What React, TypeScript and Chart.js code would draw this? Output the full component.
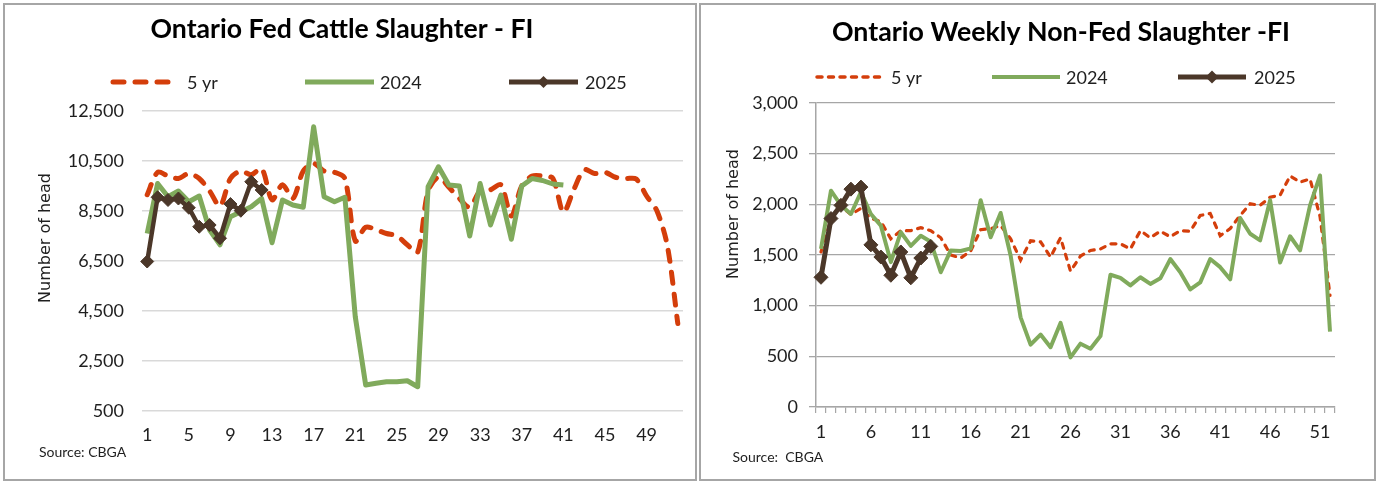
import React, { useEffect, useRef } from 'react';
import { Chart, registerables } from 'chart.js';

Chart.register(...registerables);

// ---------- data ----------
const WEEKS = [
  '1', '2', '3', '4', '5', '6', '7', '8', '9', '10', '11', '12', '13',
  '14', '15', '16', '17', '18', '19', '20', '21', '22', '23', '24', '25', '26',
  '27', '28', '29', '30', '31', '32', '33', '34', '35', '36', '37', '38', '39',
  '40', '41', '42', '43', '44', '45', '46', '47', '48', '49', '50', '51', '52',
];

const SERIES_LABELS = ['5 yr', '2024', '2025'];

// Ontario Fed Cattle Slaughter - FI
const FED_5YR = [
  9150, 10050, 9900, 9800, 10000, 9800, 9300, 8700, 9800, 10100, 9950, 10200, 8950,
  9550, 9000, 10100, 10400, 10100, 10050, 9800, 7300, 7850, 7750, 7600, 7500, 7150,
  6850, 9300, 9850, 9450, 9000, 8650, 9300, 9350, 9550, 8300, 9500, 9900, 9900,
  9800, 8450, 9350, 10150, 10000, 10050, 9850, 9800, 9780, 9100, 8500, 7100, 4000,
];
const FED_2024 = [
  7600, 9600, 9070, 9300, 8870, 9100, 7740, 7150, 8270, 8470, 8670, 9000, 7230,
  8940, 8740, 8650, 11870, 9070, 8870, 9050, 4270, 1540, 1610, 1670, 1670, 1710,
  1470, 9470, 10270, 9540, 9500, 7500, 9600, 7940, 9140, 7370, 9500, 9800, 9720,
  9580, 9540,
];
const FED_2025 = [6480, 9050, 8940, 9000, 8630, 7870, 7940, 7410, 8780, 8510, 9670, 9340];
const FED_Y_MIN = 500;
const FED_Y_MAX = 12500;
const FED_Y_STEP = 2000;

// Ontario Weekly Non-Fed Slaughter -FI
const NONFED_5YR = [
  1530, 1850, 1980, 1900, 1960, 1860, 1830, 1660, 1740, 1740, 1770, 1740, 1670,
  1500, 1470, 1540, 1750, 1760, 1790, 1660, 1450, 1640, 1630, 1480, 1670, 1340,
  1490, 1545, 1560, 1610, 1610, 1560, 1740, 1670, 1735, 1680, 1740, 1735, 1890,
  1910, 1690, 1760, 1890, 2005, 1990, 2070, 2090, 2280, 2220, 2250, 1880, 1100,
];
const NONFED_2024 = [
  1560, 2135, 1990, 1905, 2120, 1905, 1790, 1430, 1725, 1590, 1690, 1630, 1330,
  1545, 1540, 1565, 2040, 1675, 1915, 1495, 885, 615, 715, 590, 830, 490,
  625, 575, 700, 1305, 1275, 1200, 1280, 1215, 1270, 1460, 1330, 1160, 1230,
  1460, 1380, 1260, 1865, 1710, 1645, 2040, 1425, 1685, 1545, 1990, 2285, 745,
];
const NONFED_2025 = [1280, 1860, 1990, 2150, 2170, 1600, 1480, 1300, 1530, 1275, 1470, 1585];
const NONFED_Y_MIN = 0;
const NONFED_Y_MAX = 3000;
const NONFED_Y_STEP = 500;

// ---------- styles ----------
const RED = '#d43e0b';
const GREEN = '#80aa5c';
const BROWN = '#4b3729';
const TEXT = '#1f1f1f';
const FONT = 'Lato';

type LegendItem = { ds: number; x1: number; x2: number; textX: number; width: number; dash?: number[]; marker?: number };
type TextSpec = {
  title: string;
  titleWidth: number;
  titleX: number;
  titleY: number;
  legendY: number;
  legendTextY: number;
  legend: LegendItem[];
  yTitleX: number;
  yTitleY: number;
  source: string;
  sourceX: number;
  sourceY: number;
};

function textPlugin(spec: TextSpec) {
  return {
    id: 'panelText',
    afterDraw(chart: any) {
      const ctx: CanvasRenderingContext2D = chart.ctx;
      ctx.save();
      // title
      ctx.fillStyle = '#000';
      ctx.textAlign = 'center';
      ctx.textBaseline = 'alphabetic';
      ctx.font = `bold 24px ${FONT}`;
      const w = ctx.measureText(spec.title).width;
      const size = (24 * spec.titleWidth) / w;
      ctx.font = `bold ${size.toFixed(2)}px ${FONT}`;
      ctx.fillText(spec.title, spec.titleX, spec.titleY);

      // legend
      spec.legend.forEach((item) => {
        const ds = chart.data.datasets[item.ds];
        ctx.save();
        ctx.strokeStyle = ds.borderColor;
        ctx.lineWidth = item.width;
        ctx.lineCap = item.dash ? 'round' : 'butt';
        ctx.setLineDash(item.dash || []);
        ctx.beginPath();
        ctx.moveTo(item.x1, spec.legendY);
        ctx.lineTo(item.x2, spec.legendY);
        ctx.stroke();
        if (item.marker) {
          const cx = (item.x1 + item.x2) / 2;
          const r = item.marker;
          ctx.setLineDash([]);
          ctx.fillStyle = ds.borderColor;
          ctx.beginPath();
          ctx.moveTo(cx, spec.legendY - r);
          ctx.lineTo(cx + r, spec.legendY);
          ctx.lineTo(cx, spec.legendY + r);
          ctx.lineTo(cx - r, spec.legendY);
          ctx.closePath();
          ctx.fill();
        }
        ctx.restore();
        ctx.fillStyle = TEXT;
        ctx.textAlign = 'left';
        ctx.textBaseline = 'alphabetic';
        ctx.font = `18px ${FONT}`;
        ctx.fillText(ds.label, item.textX, spec.legendTextY);
      });

      // y-axis title
      ctx.save();
      ctx.translate(spec.yTitleX, spec.yTitleY);
      ctx.rotate(-Math.PI / 2);
      ctx.fillStyle = TEXT;
      ctx.textAlign = 'center';
      ctx.textBaseline = 'alphabetic';
      ctx.font = '16px "DejaVu Sans"';
      ctx.fillText('Number of head', 0, 0);
      ctx.restore();

      // source
      ctx.fillStyle = TEXT;
      ctx.textAlign = 'left';
      ctx.textBaseline = 'alphabetic';
      ctx.font = `14px ${FONT}`;
      ctx.fillText(spec.source, spec.sourceX, spec.sourceY);
      ctx.restore();
    },
  };
}

const fmt = (v: any) => Number(v).toLocaleString('en-US');

function fedConfig(): any {
  return {
    type: 'line',
    data: {
      labels: WEEKS,
      datasets: [
        {
          label: SERIES_LABELS[0], data: FED_5YR, borderColor: RED, borderWidth: 5,
          borderDash: [11, 11], borderCapStyle: 'round', tension: 0.3, pointRadius: 0, order: 3, fill: false,
        },
        {
          label: SERIES_LABELS[1], data: FED_2024, borderColor: GREEN, borderWidth: 5,
          borderJoinStyle: 'round', pointRadius: 0, order: 2, fill: false,
        },
        {
          label: SERIES_LABELS[2], data: FED_2025, borderColor: BROWN, backgroundColor: BROWN, borderWidth: 4.5,
          borderJoinStyle: 'round', pointStyle: 'rectRot', pointRadius: 6.5, pointBorderWidth: 1,
          pointBackgroundColor: BROWN, pointBorderColor: BROWN, order: 1, fill: false,
        },
      ],
    },
    options: {
      animation: false,
      responsive: true,
      maintainAspectRatio: false,
      layout: { padding: { top: 106, right: 12, left: 0, bottom: 28 } },
      plugins: { legend: { display: false }, tooltip: { enabled: false }, title: { display: false } },
      scales: {
        x: {
          type: 'category',
          offset: true,
          grid: { display: false, drawTicks: false },
          border: { display: false },
          ticks: {
            autoSkip: false, maxRotation: 0, minRotation: 0, padding: 13,
            font: { family: FONT, size: 18 }, color: TEXT,
            callback: (_v: any, i: number) => (i % 4 === 0 ? WEEKS[i] : null),
          },
          afterFit: (s: any) => { s.height = 40; },
        },
        y: {
          min: FED_Y_MIN, max: FED_Y_MAX,
          grid: { color: '#d9d9d9', lineWidth: 1.6, drawTicks: false },
          border: { display: false },
          ticks: { stepSize: FED_Y_STEP, padding: 18, font: { family: FONT, size: 18 }, color: TEXT, callback: fmt },
          afterFit: (s: any) => { s.width = 137; },
        },
      },
    },
    plugins: [
      textPlugin({
        title: 'Ontario Fed Cattle Slaughter - FI', titleWidth: 383, titleX: 337, titleY: 32.5,
        legendY: 77, legendTextY: 84,
        legend: [
          { ds: 0, x1: 108, x2: 170, textX: 182, width: 5, dash: [11, 11] },
          { ds: 1, x1: 300, x2: 369, textX: 375, width: 5 },
          { ds: 2, x1: 504, x2: 573, textX: 580, width: 5, marker: 6 },
        ],
        yTitleX: 45, yTitleY: 233,
        source: 'Source: CBGA', sourceX: 34, sourceY: 451.5,
      }),
    ],
  };
}

function nonFedConfig(): any {
  return {
    type: 'line',
    data: {
      labels: WEEKS,
      datasets: [
        {
          label: SERIES_LABELS[0], data: NONFED_5YR, borderColor: RED, borderWidth: 3.2,
          borderDash: [5, 6.5], borderCapStyle: 'round', tension: 0, pointRadius: 0, order: 3, fill: false,
        },
        {
          label: SERIES_LABELS[1], data: NONFED_2024, borderColor: GREEN, borderWidth: 4,
          borderJoinStyle: 'round', pointRadius: 0, order: 2, fill: false,
        },
        {
          label: SERIES_LABELS[2], data: NONFED_2025, borderColor: BROWN, backgroundColor: BROWN, borderWidth: 5,
          borderJoinStyle: 'round', pointStyle: 'rectRot', pointRadius: 7, pointBorderWidth: 1,
          pointBackgroundColor: BROWN, pointBorderColor: BROWN, order: 1, fill: false,
        },
      ],
    },
    options: {
      animation: false,
      responsive: true,
      maintainAspectRatio: false,
      layout: { padding: { top: 98, right: 39, left: 0, bottom: 32 } },
      plugins: { legend: { display: false }, tooltip: { enabled: false }, title: { display: false } },
      scales: {
        x: {
          type: 'category',
          offset: true,
          grid: {
            display: true, drawOnChartArea: false, drawTicks: true, tickLength: 6, offset: true,
            color: '#a6a6a6', lineWidth: 1.2,
          },
          border: { display: true, color: '#a6a6a6', width: 1.5 },
          ticks: {
            autoSkip: false, maxRotation: 0, minRotation: 0, padding: 8,
            font: { family: FONT, size: 18 }, color: TEXT,
            callback: (_v: any, i: number) => (i % 5 === 0 ? WEEKS[i] : ''),
          },
          afterFit: (s: any) => { s.height = 40; },
        },
        y: {
          min: NONFED_Y_MIN, max: NONFED_Y_MAX,
          grid: { color: '#a6a6a6', lineWidth: 1.3, drawTicks: true, tickLength: 7 },
          border: { display: true, color: '#a6a6a6', width: 1.5 },
          ticks: { stepSize: NONFED_Y_STEP, padding: 11, font: { family: FONT, size: 18 }, color: TEXT, callback: fmt },
          afterFit: (s: any) => { s.width = 115; },
        },
      },
    },
    plugins: [
      textPlugin({
        title: 'Ontario Weekly Non-Fed Slaughter -FI', titleWidth: 458, titleX: 360, titleY: 35.5,
        legendY: 72, legendTextY: 79,
        legend: [
          { ds: 0, x1: 116, x2: 180, textX: 190, width: 3.5, dash: [5, 6.5] },
          { ds: 1, x1: 291, x2: 359, textX: 365, width: 4 },
          { ds: 2, x1: 477, x2: 545, textX: 553, width: 5, marker: 6.5 },
        ],
        yTitleX: 37.3, yTitleY: 209,
        source: 'Source:  CBGA', sourceX: 31.5, sourceY: 456.5,
      }),
    ],
  };
}

function Panel(props: { left: number; width: number; makeConfig: () => any }) {
  const ref = useRef<HTMLCanvasElement | null>(null);
  useEffect(() => {
    if (!ref.current) return;
    const chart = new Chart(ref.current, props.makeConfig());
    return () => chart.destroy();
  }, []);
  const innerW = props.width - 4;
  const innerH = 478 - 4;
  return (
    <div
      style={{
        position: 'absolute', left: props.left, top: 3, width: props.width, height: 478,
        border: '2px solid #a6a6a6', boxSizing: 'border-box', background: '#fff',
      }}
    >
      <div style={{ position: 'relative', width: innerW, height: innerH }}>
        <canvas ref={ref} />
      </div>
    </div>
  );
}

export default function App() {
  return (
    <div style={{ position: 'absolute', left: 0, top: 0, width: 1378, height: 482, background: '#fff', overflow: 'hidden' }}>
      <Panel left={3} width={694} makeConfig={fedConfig} />
      <Panel left={699} width={677} makeConfig={nonFedConfig} />
    </div>
  );
}
